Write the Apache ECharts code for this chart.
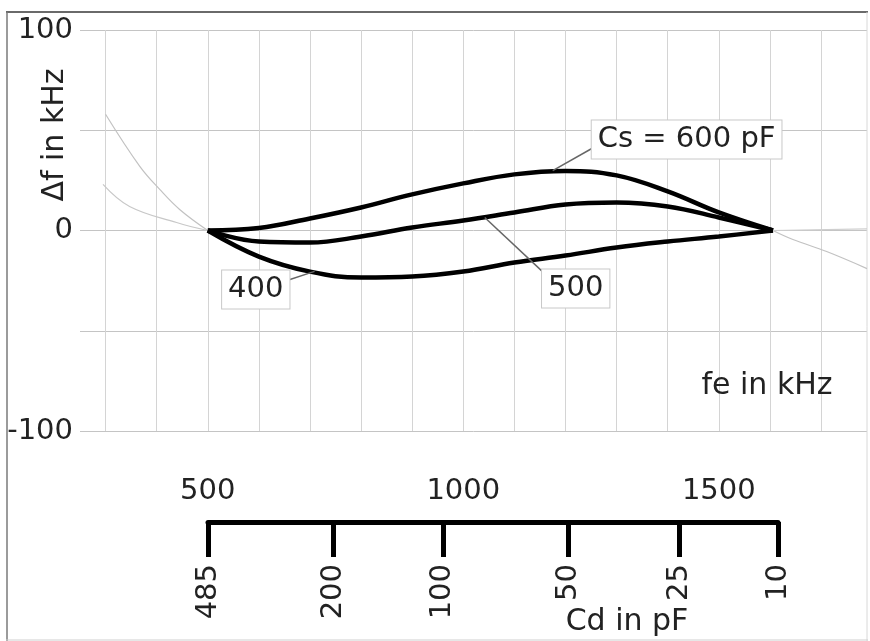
<!DOCTYPE html>
<html>
<head>
<meta charset="utf-8">
<script src="https://cdn.jsdelivr.net/npm/echarts@6/dist/echarts.min.js"></script>
<style>
  html, body { margin: 0; padding: 0; background: #fff; }
  #chart { width: 870px; height: 641px; }
</style>
</head>
<body>
<div id="chart"></div>
<script>
// tuning curves: frequency error vs. oscillator frequency, for three Cs values
var fe = [500, 600, 700, 800, 900, 1000, 1100, 1200, 1300, 1400, 1500, 1606];
var df600 = [0, 1.2, 6, 11.5, 18, 23.5, 28, 29.7, 27.5, 19.5, 9, 0];
var df500 = [0, -5.5, -6, -3, 1.5, 5, 9, 13, 14, 12, 6.5, 0];
var df400 = [0, -13, -20.5, -23.5, -23, -20.5, -16, -12.5, -8.5, -5.5, -3, 0];

// faint continuations outside the tuning range
var feLeftA = [300, 367, 406, 445, 500];
var dfLeftA = [58, 32, 20.5, 10.5, 0];
var feLeftB = [295, 347, 439, 500];
var dfLeftB = [23, 12, 4, 0];
var feRightA = [1606, 1645, 1711, 1790];
var dfRightA = [0, -4.5, -10.5, -19];
var feRightB = [1606, 1790];
var dfRightB = [0, 0.8];

// axes
var feGrid = [300, 400, 500, 600, 700, 800, 900, 1000, 1100, 1200, 1300, 1400, 1500, 1600, 1700];
var feLabels = [500, 1000, 1500];
var cdLabels = ['485', '200', '100', '50', '25', '10'];
var cdAt = [500, 746, 960, 1205, 1423, 1616];

// callouts (data coords: point on curve, leader end, text centre)
var notes = [
  { label: 'Cs = 600 pF', curve: [1175, 29.9], leader: [1255, 41.4], text: [1437, 45.4] },
  { label: '400', curve: [709, -20.4], leader: [655, -24.9], text: [594, -29.4] },
  { label: '500', curve: [1042, 6.5], leader: [1165, -22.9], text: [1220, -28.9] }
];

var FONT = '"DejaVu Sans", "Liberation Sans", sans-serif';

function zip(xs, ys) {
  return xs.map(function (x, i) { return [x, ys[i]]; });
}

var chart = echarts.init(document.getElementById('chart'));

function curve(data, width, color) {
  return {
    type: 'line', xAxisIndex: 0, yAxisIndex: 0, data: data,
    smooth: 0.4, symbol: 'none', silent: true,
    lineStyle: { color: color, width: width },
    z: width > 2 ? 3 : 2
  };
}

chart.setOption({
  animation: false,
  backgroundColor: '#fff',
  grid: [
    { left: 80, right: 3, top: 30, bottom: 210 },
    { left: 208, right: 92, top: 480, bottom: 119 }
  ],
  xAxis: [
    {
      gridIndex: 0, type: 'value', min: 250, max: 1790,
      axisLine: { show: false },
      axisTick: { show: false, customValues: feGrid },
      splitLine: { show: true, lineStyle: { color: '#d4d4d4', width: 1 } },
      axisLabel: {
        customValues: feLabels, margin: 46,
        fontFamily: FONT, fontSize: 29, color: '#222',
        formatter: function (v) { return String(v); }
      }
    },
    {
      gridIndex: 1, type: 'value', min: 500, max: 1616,
      axisLine: { show: true, lineStyle: { color: '#000', width: 5 } },
      axisTick: { show: true, customValues: cdAt, length: 35, lineStyle: { color: '#000', width: 5 } },
      splitLine: { show: false },
      axisLabel: {
        customValues: cdAt, rotate: 90, margin: 42,
        fontFamily: FONT, fontSize: 29, color: '#222',
        formatter: function (v) { return cdLabels[cdAt.indexOf(v)]; }
      }
    }
  ],
  yAxis: [
    {
      gridIndex: 0, type: 'value', min: -100, max: 100, interval: 50,
      axisLine: { show: false }, axisTick: { show: false },
      splitLine: { show: true, lineStyle: { color: '#c4c4c4', width: 1 } },
      axisLabel: {
        margin: 7, fontFamily: FONT, fontSize: 29, color: '#222',
        formatter: function (v) { return v % 100 === 0 ? String(v) : ''; }
      }
    },
    {
      gridIndex: 1, type: 'value', show: false
    }
  ],
  series: [
    curve(zip(feLeftA, dfLeftA), 1.2, '#c2c2c2'),
    curve(zip(feLeftB, dfLeftB), 1.2, '#c8c8c8'),
    curve(zip(feRightA, dfRightA), 1.2, '#c2c2c2'),
    curve(zip(feRightB, dfRightB), 1.2, '#cfcfcf'),
    curve(zip(fe, df600), 4.5, '#000'),
    curve(zip(fe, df500), 4.5, '#000'),
    curve(zip(fe, df400), 4.5, '#000')
  ]
});

function px(p) { return chart.convertToPixel({ gridIndex: 0 }, p); }

var graphics = [
  // photo frame
  { type: 'line', shape: { x1: 6, y1: 12, x2: 868, y2: 12 }, style: { stroke: '#6a6a6a', lineWidth: 2 } },
  { type: 'line', shape: { x1: 7, y1: 12, x2: 7, y2: 641 }, style: { stroke: '#7a7a7a', lineWidth: 1.5 } },
  { type: 'line', shape: { x1: 867, y1: 12, x2: 867, y2: 641 }, style: { stroke: '#d8d8d8', lineWidth: 1 } },
  { type: 'line', shape: { x1: 6, y1: 640, x2: 868, y2: 640 }, style: { stroke: '#cfcfcf', lineWidth: 1 } },
  {
    type: 'text', x: 55, y: 135, rotation: Math.PI / 2,
    style: { text: '\u0394f in kHz', font: '30px ' + FONT, fill: '#222', align: 'center', verticalAlign: 'middle' }
  },
  {
    type: 'text', x: 767, y: 386,
    style: { text: 'fe in kHz', font: '30px ' + FONT, fill: '#222', align: 'center', verticalAlign: 'middle' }
  },
  {
    type: 'text', x: 627, y: 622,
    style: { text: 'Cd in pF', font: '30px ' + FONT, fill: '#222', align: 'center', verticalAlign: 'middle' }
  }
];

notes.forEach(function (n) {
  var a = px(n.curve), b = px(n.leader), c = px(n.text);
  graphics.push({
    type: 'line', z: 10,
    shape: { x1: a[0], y1: a[1], x2: b[0], y2: b[1] },
    style: { stroke: '#666', lineWidth: 1.5 }
  });
  graphics.push({
    type: 'text', z: 11, x: c[0], y: c[1],
    style: {
      text: n.label, font: '29px ' + FONT, fill: '#222',
      align: 'center', verticalAlign: 'middle',
      backgroundColor: '#fff', borderColor: '#c8c8c8', borderWidth: 1,
      padding: [5, 6, 4, 6]
    }
  });
});

chart.setOption({ graphic: graphics });
</script>
</body>
</html>
